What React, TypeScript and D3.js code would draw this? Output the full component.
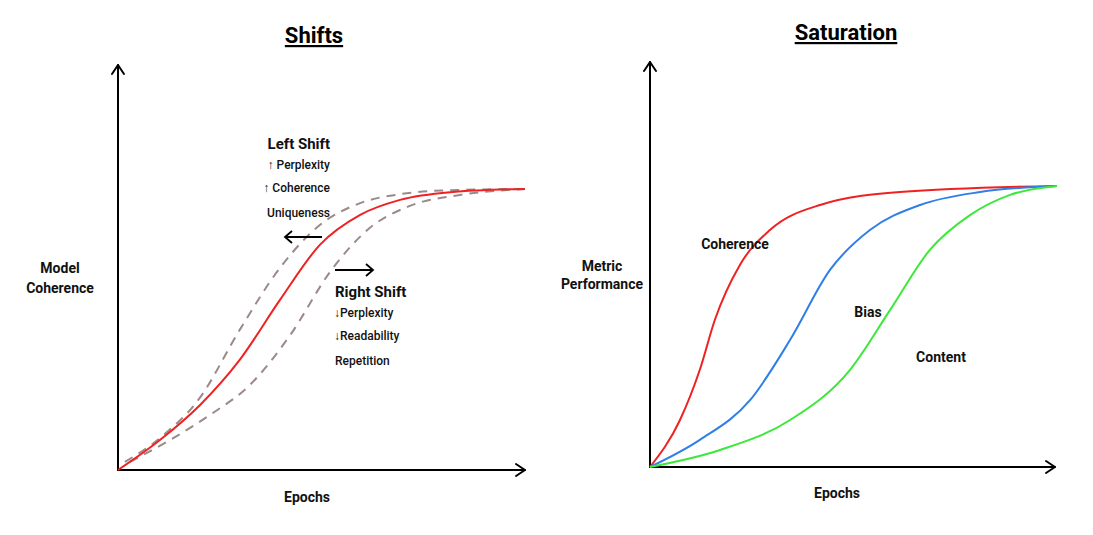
import React from "react";
import * as d3 from "d3";

const shiftX = [0, 10.3, 20.1, 29.9, 39.8, 49.6, 59.5, 69.3, 81.6, 100];
const shiftBase = [0, 7.4, 16.0, 27.2, 42.0, 55.6, 63.0, 66.7, 68.6, 69.4];
const leftShiftX = [1.7, 10.3, 20.1, 29.9, 39.8, 49.6, 59.5, 69.3, 81.6, 100];
const leftShiftY = [2.0, 7.9, 17.8, 34.6, 49.9, 60.5, 65.9, 68.1, 69.1, 69.4];
const rightShiftX = [2.9, 12.8, 22.6, 32.4, 42.3, 52.1, 61.9, 71.7, 84.0, 100];
const rightShiftY = [2.0, 7.4, 13.6, 21.0, 33.3, 48.9, 59.8, 65.2, 67.9, 69.4];

const cohX = [0, 7.4, 12.3, 16.0, 22.2, 29.6, 42.0, 61.7, 100.5];
const cohY = [0, 11.6, 24.0, 36.3, 49.9, 58.5, 64.7, 67.9, 69.4];
const biasX = [0, 12.3, 24.7, 34.6, 44.4, 54.3, 66.7, 81.5, 100.5];
const biasY = [0, 6.7, 16.5, 31.4, 48.6, 58.5, 64.7, 67.9, 69.4];
const contX = [0, 17.3, 34.6, 49.4, 59.3, 69.1, 79.0, 88.9, 100.5];
const contY = [0, 4.2, 11.6, 24.0, 38.8, 53.6, 62.2, 67.2, 69.4];

const F = "Roboto, 'Noto Sans', sans-serif";

function Panel({ ox, oy, xEnd, yTop }: { ox: number; oy: number; xEnd: number; yTop: number }) {
  return (
    <g stroke="#000" strokeWidth={2} fill="none" strokeLinecap="round" strokeLinejoin="round">
      <line x1={ox} y1={oy} x2={xEnd} y2={oy} />
      <line x1={ox} y1={oy} x2={ox} y2={yTop} />
      <polyline points={`${xEnd - 9},${oy - 6} ${xEnd},${oy} ${xEnd - 9},${oy + 6}`} />
      <polyline points={`${ox - 6},${yTop + 9} ${ox},${yTop} ${ox + 6},${yTop + 9}`} />
    </g>
  );
}

export default function App() {
  const lx = d3.scaleLinear().domain([0, 100]).range([118, 525]);
  const ly = d3.scaleLinear().domain([0, 100]).range([470, 65]);
  const rx = d3.scaleLinear().domain([0, 100]).range([650, 1055]);
  const ry = d3.scaleLinear().domain([0, 100]).range([467, 62]);
  const mk = (sx: any, sy: any, xs: number[], ys: number[]) =>
    d3.line<number>().x((_, i) => sx(xs[i])).y((v) => sy(v)).curve(d3.curveMonotoneX)(ys) as string;

  const t = (x: number, y: number, s: string, size = 14, weight = 700, anchor = "middle") => (
    <text x={x} y={y} fontSize={size} fontWeight={weight} textAnchor={anchor} fontFamily={F} fill="#111">{s}</text>
  );

  return (
    <svg width={1093} height={535} style={{ position: "absolute", left: 0, top: 0, background: "#fff" }}>
      <text x={314} y={43} fontSize={22} fontWeight={700} textAnchor="middle" fontFamily={F} textDecoration="underline">Shifts</text>
      <text x={846} y={40} fontSize={22} fontWeight={700} textAnchor="middle" fontFamily={F} textDecoration="underline">Saturation</text>

      <Panel ox={118} oy={470} xEnd={525} yTop={65} />
      <Panel ox={650} oy={467} xEnd={1055} yTop={62} />

      <path d={mk(lx, ly, leftShiftX, leftShiftY)} fill="none" stroke="#9a8a88" strokeWidth={2} strokeDasharray="9,7" />
      <path d={mk(lx, ly, rightShiftX, rightShiftY)} fill="none" stroke="#9a8a88" strokeWidth={2} strokeDasharray="9,7" />
      <path d={mk(lx, ly, shiftX, shiftBase)} fill="none" stroke="#ee2222" strokeWidth={2} />

      <path d={mk(rx, ry, cohX, cohY)} fill="none" stroke="#ee2222" strokeWidth={2} />
      <path d={mk(rx, ry, biasX, biasY)} fill="none" stroke="#2f7fe8" strokeWidth={2} />
      <path d={mk(rx, ry, contX, contY)} fill="none" stroke="#3ee83a" strokeWidth={2} />

      <g stroke="#000" strokeWidth={1.8} fill="none">
        <line x1={322} y1={237} x2={285} y2={237} />
        <polyline points="292,231 285,237 292,243" />
        <line x1={335} y1={270} x2={373} y2={270} />
        <polyline points="366,264 373,270 366,276" />
      </g>

      {t(330, 149, "Left Shift", 15, 700, "end")}
      {t(330, 169, "↑  Perplexity", 12, 500, "end")}
      {t(330, 192, "↑  Coherence", 12, 500, "end")}
      {t(330, 217, "Uniqueness", 12, 500, "end")}
      {t(335, 297, "Right Shift", 15, 700, "start")}
      {t(334, 317, "↓Perplexity", 12, 500, "start")}
      {t(334, 340, "↓Readability", 12, 500, "start")}
      {t(335, 365, "Repetition", 12, 500, "start")}

      {t(60, 273, "Model")}
      {t(60, 293, "Coherence")}
      {t(307, 502, "Epochs")}
      {t(602, 271, "Metric")}
      {t(602, 289, "Performance")}
      {t(837, 498, "Epochs")}
      {t(735, 249, "Coherence")}
      {t(868, 317, "Bias")}
      {t(941, 362, "Content")}
    </svg>
  );
}
